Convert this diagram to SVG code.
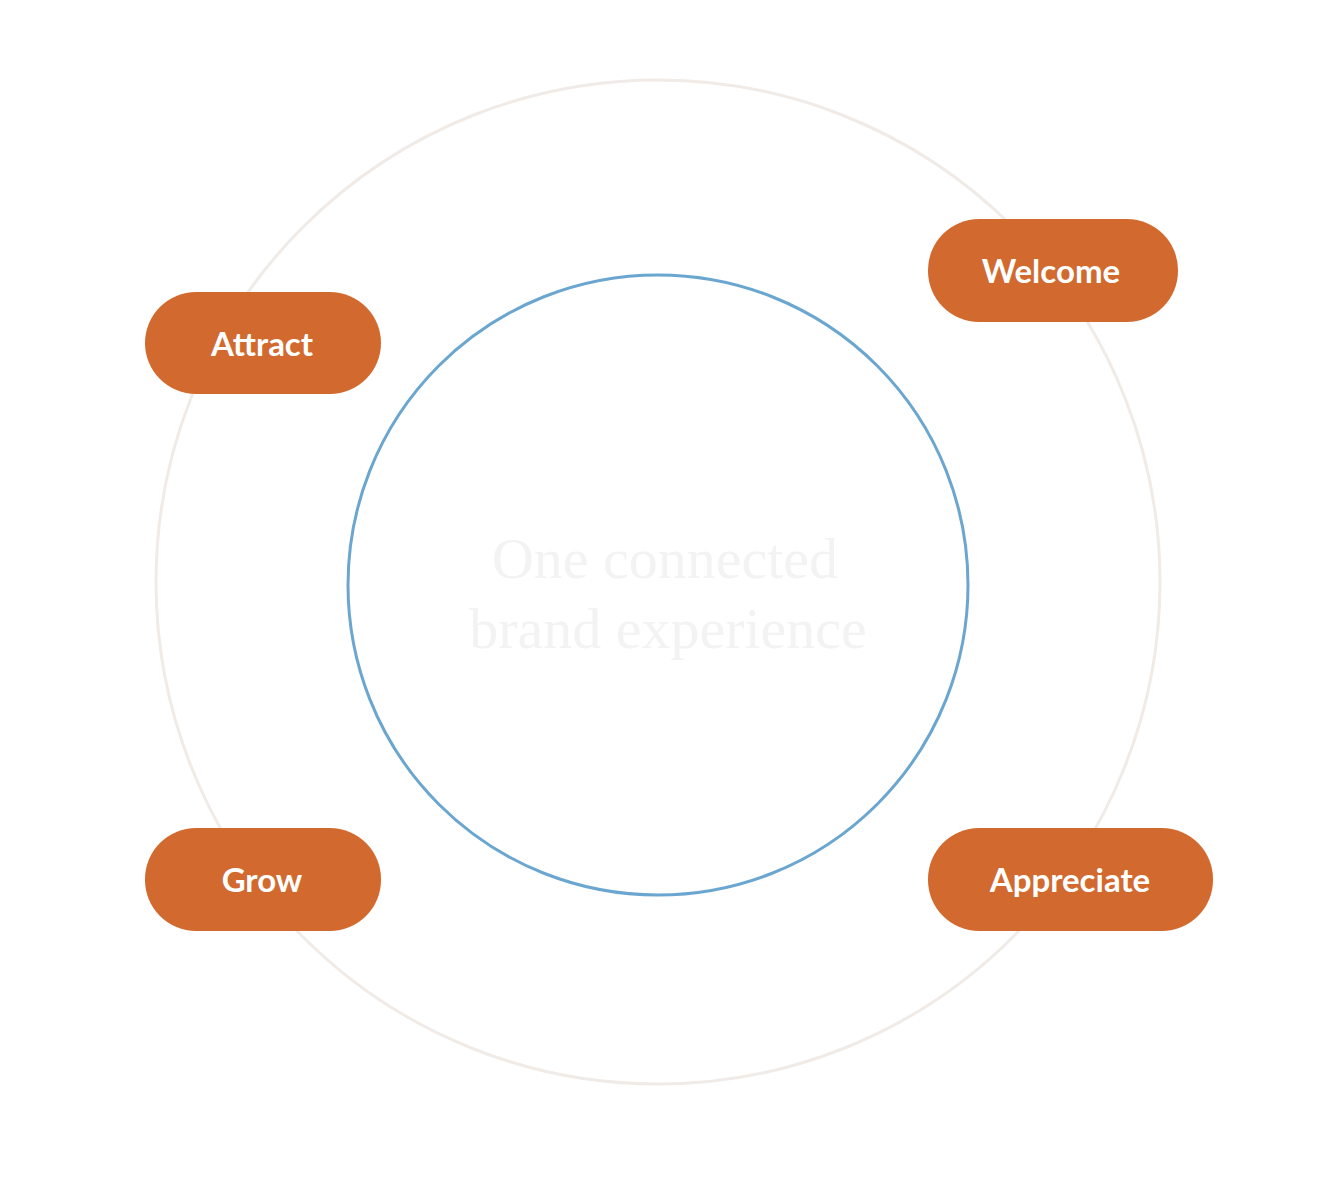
<svg xmlns="http://www.w3.org/2000/svg" width="1323" height="1189" viewBox="0 0 1323 1189">
<style>
.pill{fill:#d2692e}
.lbl{fill:#fff;font-family:"Lato","Liberation Sans",sans-serif;font-weight:bold;font-size:33px;text-anchor:middle;dominant-baseline:central}
.ctr{fill:#f3f3f3;font-family:"Liberation Serif",serif;font-size:58px;text-anchor:middle}
</style>
<rect width="1323" height="1189" fill="#fff"/>
<g id="connectors">
<circle cx="658" cy="582" r="502" fill="none" stroke="#f1ebe7" stroke-width="3"/>
</g>
<g id="center">
<circle cx="658" cy="585" r="310" fill="#fff" stroke="#6aa6cf" stroke-width="3"/>
<text class="ctr" x="665" y="578">One connected</text>
<text class="ctr" x="668" y="648">brand experience</text>
</g>
<g id="attract"><rect class="pill" x="145" y="292" width="236" height="102" rx="51"/><text class="lbl" x="262" y="343">Attract</text></g>
<g id="welcome"><rect class="pill" x="928" y="219" width="250" height="103" rx="51"/><text class="lbl" x="1051" y="270">Welcome</text></g>
<g id="grow"><rect class="pill" x="145" y="828" width="236" height="103" rx="51"/><text class="lbl" x="262" y="879">Grow</text></g>
<g id="appreciate"><rect class="pill" x="928" y="828" width="285" height="103" rx="51"/><text class="lbl" x="1070" y="879">Appreciate</text></g>
</svg>
